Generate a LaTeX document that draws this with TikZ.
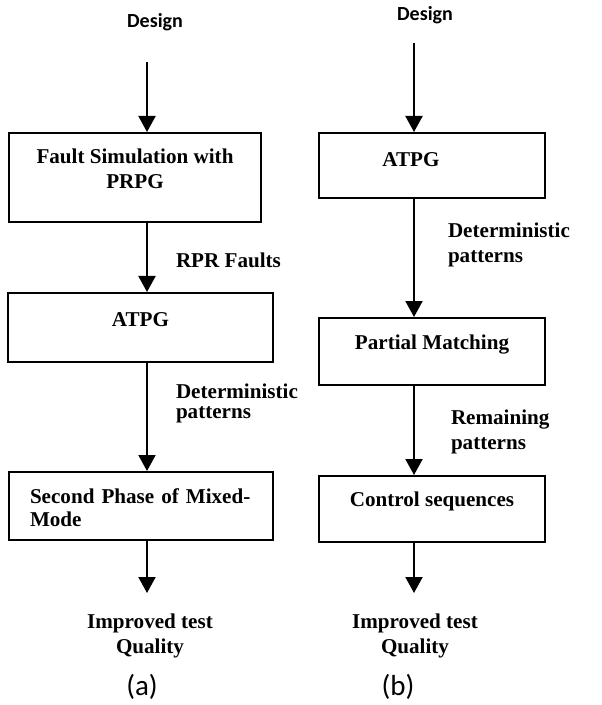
\documentclass[tikz,border=0pt]{standalone}
\usepackage{fontspec}
\setmainfont{Liberation Serif}
\newfontfamily\calibri{Carlito}
\usepackage{tikz}
\usetikzlibrary{positioning, arrows.meta}
\newcommand{\boxfont}{\fontsize{10.55}{12.5}\selectfont\bfseries}
\tikzset{
    base/.style={align=center, font=\boxfont, text=black},
    stage/.style={base, draw=black, line width=1pt, rectangle, inner sep=0pt, text depth=8pt},
    arrow/.style={-{Triangle[width=8.5pt,length=8pt]}, line width=1pt, draw=black},
    note/.style={font=\boxfont, align=left, inner sep=0pt},
    heading/.style={font=\calibri\bfseries\fontsize{10}{12}\selectfont},
    caption/.style={font=\calibri\fontsize{14.5}{17}\selectfont}
}

\begin{document}
\begin{tikzpicture}[x=0.5pt, y=-0.5pt]

\useasboundingbox (0,0) rectangle (601,705);

% Nodes (a)
\node[heading] (designa) at (155,22) {Design};
\node[stage, minimum width=126pt, minimum height=44.5pt, text depth=8.4pt] (faultsim) at (135,177.5) {Fault Simulation with\\PRPG};
\node[stage, minimum width=132.5pt, minimum height=34.5pt] (atpga) at (140.5,327.5) {ATPG};
\node[stage, minimum width=132pt, minimum height=34pt, text depth=9.5pt, align=left, text width=111pt, inner xsep=10.5pt] (mixedmode) at (141,506) {Second Phase of Mixed-\\[-1pt]Mode};
\node[base] (resulta) at (150,636) {Improved test\\Quality};
\node[caption] (capa) at (142,687) {(a)};

% Nodes (b)
\node[heading] (designb) at (425,15) {Design};
\node[stage, minimum width=113pt, minimum height=32.5pt, text depth=6pt] (atpgb) at (432,165.5) {ATPG\hspace*{21pt}};
\node[stage, minimum width=113pt, minimum height=33.5pt, text depth=8.9pt] (partial) at (432,351.5) {Partial Matching};
\node[stage, minimum width=113pt, minimum height=33pt, text depth=9.4pt] (ctrlseq) at (432,509) {Control sequences};
\node[base] (resultb) at (415,636) {Improved test\\Quality};
\node[caption] (capb) at (398,687) {(b)};

% Arrow ends
\coordinate (starta) at (147,62);
\coordinate (enda) at (147,593);
\coordinate (startb) at (414,43);
\coordinate (endb) at (414,593);

% Flow (a)
\draw[arrow] (starta) -- (starta |- faultsim.north);
\draw[arrow] (starta |- faultsim.south) -- node[note, pos=0.535, right=14pt] {RPR Faults} (starta |- atpga.north);
\draw[arrow] (starta |- atpga.south) -- node[note, pos=0.373, right=14pt] {Deterministic\\[-2.5pt]patterns} (starta |- mixedmode.north);
\draw[arrow] (starta |- mixedmode.south) -- (enda);

% Flow (b)
\draw[arrow] (startb) -- (startb |- atpgb.north);
\draw[arrow] (startb |- atpgb.south) -- node[note, pos=0.39, right=16.5pt] {Deterministic\\patterns} (startb |- partial.north);
\draw[arrow] (startb |- partial.south) -- node[note, pos=0.52, right=18pt] {Remaining\\patterns} (startb |- ctrlseq.north);
\draw[arrow] (startb |- ctrlseq.south) -- (endb);

\end{tikzpicture}
\end{document}
